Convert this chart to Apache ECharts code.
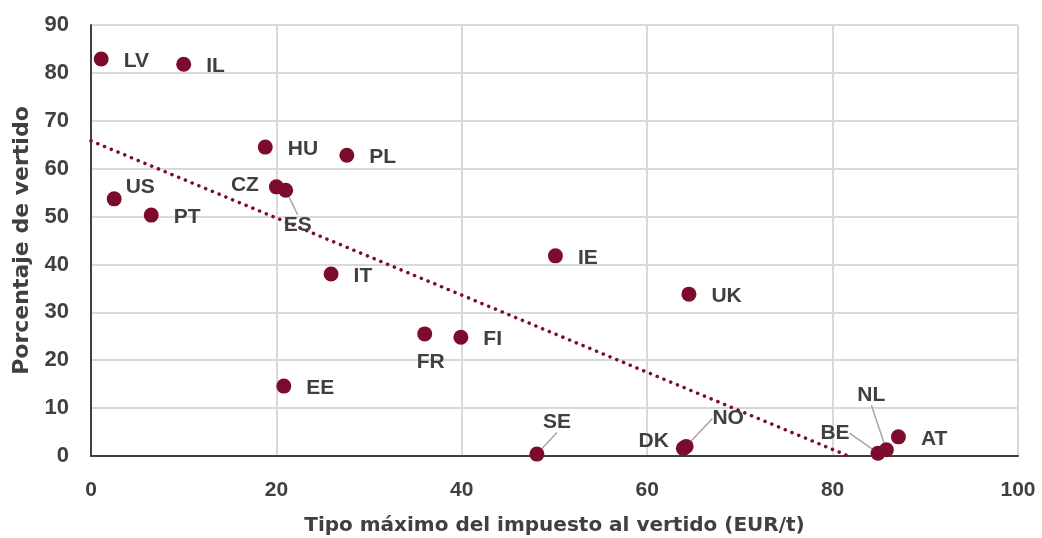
<!DOCTYPE html>
<html>
<head>
<meta charset="utf-8">
<script src="https://cdn.jsdelivr.net/npm/echarts@6/dist/echarts.min.js"></script>
<style>
  html, body { margin: 0; padding: 0; background: #fff; }
  #chart { width: 1042px; height: 538px; }
</style>
</head>
<body>
<div id="chart"></div>
<script>
// datos
const countries = ['LV', 'IL', 'HU', 'PL', 'CZ', 'US', 'PT', 'IE', 'IT', 'UK', 'FR', 'FI', 'EE', 'DK', 'AT'];
const taxRate = [1.1, 10.0, 18.8, 27.6, 20.0, 2.5, 6.5, 50.1, 25.9, 64.5, 36.0, 39.9, 20.8, 63.9, 87.1];
const landfillShare = [82.9, 81.8, 64.5, 62.8, 56.2, 53.7, 50.3, 41.8, 38.0, 33.8, 25.5, 24.8, 14.6, 1.6, 4.0];

// puntos con linea guia en la etiqueta
const guidedCountries = ['ES', 'SE', 'NO', 'BE', 'NL'];
const guidedTaxRate = [21.0, 48.1, 64.2, 84.9, 85.8];
const guidedLandfill = [55.5, 0.4, 2.0, 0.6, 1.3];

// linea de tendencia (extremos leidos)
const trendX = [0, 81.7];
const trendY = [65.8, 0];

const RED = '#7d0b2c';
const TXT = '#404040';
const FONT = '"Liberation Sans", Arial, sans-serif';
const TITLE_FONT = '"DejaVu Sans", sans-serif';

// colocacion de etiquetas (estilo)
const labelPlacement = {
  US: { distance: 4, offset: [0, -12] },
  CZ: { position: 'left', distance: 10, offset: [0, -2] },
  FR: { position: 'bottom', distance: 10, offset: [6, 0] },
  DK: { position: 'left', distance: 7, offset: [0, -7] }
};
const guideOffset = {
  ES: [12, 35],
  SE: [20, -32],
  NO: [42, -28],
  BE: [-43, -20],
  NL: [-15, -55]
};

const chart = echarts.init(document.getElementById('chart'));

const mainData = countries.map(function (c, i) {
  const item = { name: c, value: [taxRate[i], landfillShare[i]] };
  if (labelPlacement[c]) item.label = labelPlacement[c];
  return item;
});
const guidedData = guidedCountries.map(function (c, i) {
  return { name: c, value: [guidedTaxRate[i], guidedLandfill[i]] };
});

const labelStyle = {
  show: true,
  formatter: '{b}',
  color: TXT,
  fontFamily: FONT,
  fontWeight: 'bold',
  fontSize: 21
};

chart.setOption({
  animation: false,
  grid: { left: 91, right: 24, top: 25, bottom: 82, outerBoundsMode: 'none', containLabel: false },
  xAxis: {
    type: 'value',
    min: 0, max: 100, interval: 20,
    name: 'Tipo máximo del impuesto al vertido (EUR/t)',
    nameLocation: 'middle',
    nameGap: 60,
    nameTextStyle: { color: TXT, fontFamily: TITLE_FONT, fontWeight: 'bold', fontSize: 20 },
    axisLine: { show: true, lineStyle: { color: TXT, width: 2 } },
    axisTick: { show: false },
    axisLabel: { color: TXT, fontFamily: FONT, fontWeight: 'bold', fontSize: 21, margin: 24 },
    splitLine: { show: true, lineStyle: { color: '#d9d9d9', width: 2 } }
  },
  yAxis: {
    type: 'value',
    min: 0, max: 90, interval: 10,
    name: 'Porcentaje de vertido',
    nameLocation: 'middle',
    nameGap: 58,
    nameTextStyle: { color: TXT, fontFamily: TITLE_FONT, fontWeight: 'bold', fontSize: 22 },
    axisLine: { show: true, lineStyle: { color: TXT, width: 2 } },
    axisTick: { show: false },
    axisLabel: { color: TXT, fontFamily: FONT, fontWeight: 'bold', fontSize: 22, margin: 22 },
    splitLine: { show: true, lineStyle: { color: '#d9d9d9', width: 2 } }
  },
  series: [
    {
      type: 'line',
      data: trendX.map(function (x, i) { return [x, trendY[i]]; }),
      symbol: 'none',
      silent: true,
      z: 1,
      lineStyle: { color: RED, width: 3.5, type: [0.1, 7.2], cap: 'round' }
    },
    {
      type: 'scatter',
      data: mainData,
      symbolSize: 15,
      itemStyle: { color: RED, opacity: 1 },
      z: 3,
      label: Object.assign({}, labelStyle, { position: 'right', distance: 15, offset: [0, 2] })
    },
    {
      type: 'scatter',
      data: guidedData,
      symbolSize: 15,
      itemStyle: { color: RED, opacity: 1 },
      z: 3,
      label: Object.assign({}, labelStyle, { position: 'inside' }),
      labelLine: { show: true, lineStyle: { color: '#a6a6a6', width: 1.5 } },
      labelLayout: function (params) {
        const off = guideOffset[guidedCountries[params.dataIndex]];
        return { dx: off[0], dy: off[1] };
      }
    }
  ]
});
</script>
</body>
</html>
